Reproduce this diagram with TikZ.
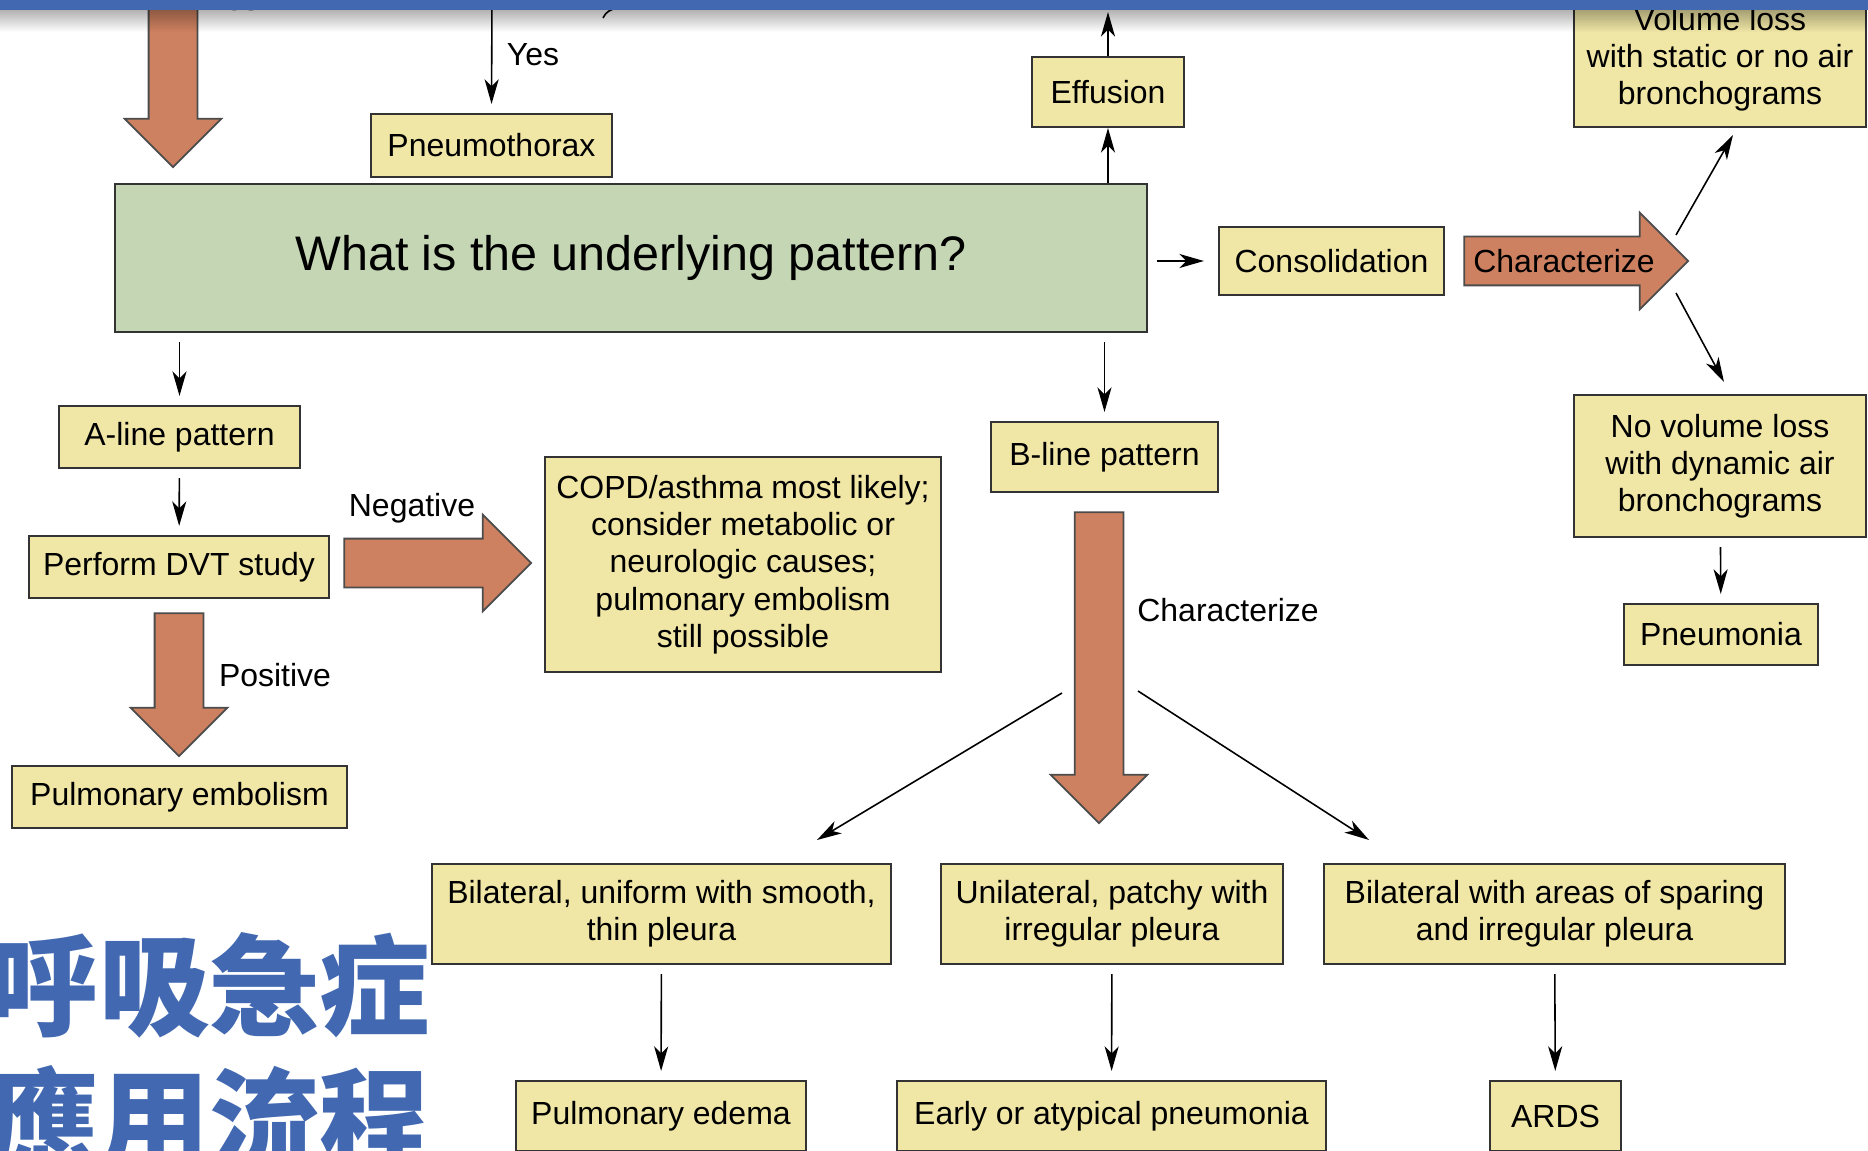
\documentclass[tikz,border=0pt]{standalone}
\usepackage{fontspec}
\setmainfont{Liberation Sans}
\newfontfamily\cjk{Noto Sans CJK TC}
\usetikzlibrary{shapes.arrows,arrows.meta,fadings}
\definecolor{ylw}{RGB}{240,230,166}
\definecolor{grn}{RGB}{197,214,180}
\definecolor{orng}{RGB}{206,129,96}
\definecolor{slide}{RGB}{65,104,177}
\tikzstyle{bx}=[rectangle,draw=black!80,line width=0.6pt,fill=ylw,align=center,inner sep=0pt,font=\fontsize{9.1}{10.6}\selectfont]
\tikzstyle{ln}=[-{Stealth[length=7pt,width=4pt,inset=2pt]},line width=0.45pt]
\tikzstyle{ar}=[ln,shorten <=0.9mm,shorten >=0.9mm]
\tikzstyle{blk}=[single arrow,draw=black!70,line width=0.5pt,fill=orng,inner xsep=0pt,inner ysep=0pt,text height=3.5mm,text depth=1.2mm,single arrow head extend=2.4mm,single arrow tip angle=90,font=\fontsize{9.1}{10.6}\selectfont]
\tikzstyle{lbl}=[inner sep=0pt,font=\fontsize{9.1}{10.6}\selectfont]

\begin{document}
\begin{tikzpicture}[x=0.1mm,y=-0.1mm]
\useasboundingbox (0,0) rectangle (1868,1151);
\fill[white] (0,0) rectangle (1868,1151);

\node[bx,minimum width=24.1mm,minimum height=6.3mm] (pnx) at (491.5,145.5) {Pneumothorax};
\node[bx,fill=grn,minimum width=103.2mm,minimum height=14.8mm,font=\fontsize{13.8}{16}\selectfont] (qst) at (631,258) {\raisebox{-0.4mm}{What is the underlying pattern?}};
\node[bx,minimum width=15.2mm,minimum height=7mm] (eff) at (1108,92) {Effusion};
\node[bx,minimum width=22.5mm,minimum height=6.8mm] (cons) at (1331.5,261) {Consolidation};
\node[bx,minimum width=29.2mm,minimum height=13.6mm] (vol) at (1720,59) {Volume loss\\with static or no air\\bronchograms};
\node[bx,minimum width=24.1mm,minimum height=6.2mm] (aln) at (179.5,437) {A-line pattern};
\node[bx,minimum width=30mm,minimum height=6.2mm] (dvt) at (179,567) {Perform DVT study};
\node[bx,minimum width=39.6mm,minimum height=21.5mm] (copd) at (743,564.5) {COPD/asthma most likely;\\consider metabolic or\\neurologic causes;\\pulmonary embolism\\still possible};
\node[bx,minimum width=33.5mm,minimum height=6.2mm] (pe) at (179.5,797) {Pulmonary embolism};
\node[bx,minimum width=22.7mm,minimum height=7mm] (bln) at (1104.5,457) {B-line pattern};
\node[bx,minimum width=29.2mm,minimum height=14.2mm] (novol) at (1720,466) {No volume loss\\with dynamic air\\bronchograms};
\node[bx,minimum width=19.4mm,minimum height=6.1mm] (pna) at (1721,634.5) {Pneumonia};
\node[bx,minimum width=45.9mm,minimum height=10mm] (bilu) at (661.5,914) {Bilateral, uniform with smooth,\\thin pleura};
\node[bx,minimum width=34.2mm,minimum height=10mm] (unil) at (1112,914) {Unilateral, patchy with\\irregular pleura};
\node[bx,minimum width=46.1mm,minimum height=10mm] (bils) at (1554.5,914) {Bilateral with areas of sparing\\and irregular pleura};
\node[bx,minimum width=29mm,minimum height=7mm] (edm) at (661,1116) {Pulmonary edema};
\node[bx,minimum width=42.9mm,minimum height=7mm] (early) at (1111.5,1116) {Early or atypical pneumonia};
\node[bx,minimum width=13.1mm,minimum height=7mm] (ards) at (1555.5,1116) {ARDS};

\node[blk,rotate=-90,minimum height=18.7mm] (topar) at (173,61.5) {};
\node[blk,rotate=-90,minimum height=14.3mm] (posar) at (179,672.5) {};
\node[blk,rotate=-90,minimum height=31.1mm] (blar) at (1099,655.5) {};
\node[blk,minimum height=18.7mm] (negar) at (425.5,563) {};
\node[blk,minimum height=22.4mm] (charar) at (1564,261) {Characterize};

\node[lbl] (yes0) at (233,0) {Yes};
\node[lbl] (yes1) at (533,55) {Yes};
\node[lbl] (neg) at (412,508) {Negative};
\node[lbl] (pos) at (275,675) {Positive};
\node[lbl] (chb) at (1228,610) {Characterize};

\node[anchor=base west,inner sep=0pt,text=slide,font=\cjk\bfseries\fontsize{31.4}{38}\selectfont] (ttl1) at (-12,1027) {呼吸急症};
\node[anchor=base west,inner sep=0pt,text=slide,font=\cjk\bfseries\fontsize{31.4}{38}\selectfont] (ttl2) at (-12,1161) {應用流程};

\coordinate (pnxtop) at (492,-5);
\coordinate (efftop) at (1108,12);
\coordinate (cu0) at (1676,235);
\coordinate (cu1) at (1733,135);
\coordinate (cd0) at (1676,293);
\coordinate (cd1) at (1724,382);
\coordinate (bl0) at (1062,693);
\coordinate (bl1) at (817,840);
\coordinate (br0) at (1138,691);
\coordinate (br1) at (1369,840);

\draw[ar,shorten <=0pt] (pnxtop) -- (pnx.north);
\draw[ln] (qst.north -| eff.south) -- (eff.south);
\draw[ln] (eff.north) -- (efftop);
\draw[ar,shorten >=1.4mm] (qst.east |- cons.west) -- (cons.west);
\draw[ar] (qst.south -| aln.north) -- (aln.north);
\draw[ar] (aln) -- (dvt);
\draw[ar] (qst.south -| bln.north) -- (bln.north);
\draw[ar] (novol) -- (pna);
\draw[ar] (bilu) -- (edm);
\draw[ar] (unil) -- (early);
\draw[ar] (bils) -- (ards);
\draw[ln] (cu0) -- (cu1);
\draw[ln] (cd0) -- (cd1);
\draw[ln] (bl0) -- (bl1);
\draw[ln] (br0) -- (br1);
\draw[line width=0.45pt] (603,18) .. controls (607,11) .. (625,5);

\fill[black,opacity=0.3,path fading=south] (0,10) rectangle (1868,32);
\fill[slide] (0,0) rectangle (1868,10);
\end{tikzpicture}
\end{document}
